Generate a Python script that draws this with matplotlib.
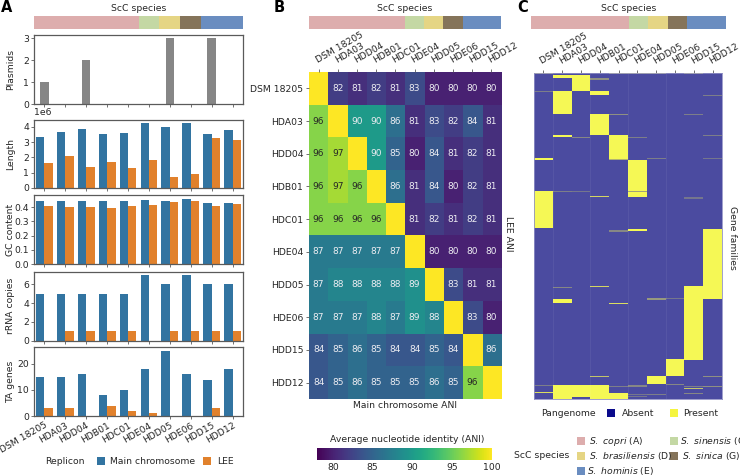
import numpy as np
import matplotlib
matplotlib.use("Agg")
import matplotlib.pyplot as plt
from matplotlib.colors import LinearSegmentedColormap
from matplotlib.patches import Rectangle

strains = ["DSM 18205", "HDA03", "HDD04", "HDB01", "HDC01",
           "HDE04", "HDD05", "HDE06", "HDD15", "HDD12"]

# species strip: number of strains per species, left to right
species_sizes = [5, 1, 1, 1, 2]
species_colors = ["#DDADAD", "#C4D8A4", "#E5D584", "#85745A", "#6A8DC0"]

plasmids = [1, 0, 2, 0, 0, 0, 3, 0, 3, 0]
length_main = [3.3e6, 3.65e6, 3.85e6, 3.55e6, 3.62e6, 4.22e6, 4.0e6, 4.25e6, 3.55e6, 3.8e6]
length_lee = [1.65e6, 2.1e6, 1.35e6, 1.72e6, 1.33e6, 1.8e6, 0.72e6, 0.92e6, 3.28e6, 3.15e6]
gc_main = [.447, .447, .447, .447, .447, .45, .445, .457, .43, .433]
gc_lee = [.408, .405, .402, .395, .41, .418, .435, .443, .41, .423]
rrna_main = [5, 5, 5, 5, 5, 7, 6, 7, 6, 6]
rrna_lee = [0, 1, 1, 1, 1, 0, 1, 1, 1, 1]
ta_main = [15, 15, 16, 8, 10, 18, 25, 16, 14, 18]
ta_lee = [3, 3, 0, 4, 2, 1, 0, 0, 3, 0]

# upper triangle LEE ANI, lower triangle main chromosome ANI, diagonal 100
ani = [
    [100, 82, 81, 82, 81, 83, 80, 80, 80, 80],
    [96, 100, 90, 90, 86, 81, 83, 82, 84, 81],
    [96, 97, 100, 90, 85, 80, 84, 81, 82, 81],
    [96, 97, 96, 100, 86, 81, 84, 80, 82, 81],
    [96, 96, 96, 96, 100, 81, 82, 81, 82, 81],
    [87, 87, 87, 87, 87, 100, 80, 80, 80, 80],
    [87, 88, 88, 88, 88, 89, 100, 83, 81, 81],
    [87, 87, 87, 88, 87, 89, 88, 100, 83, 80],
    [84, 85, 86, 85, 84, 84, 85, 84, 100, 86],
    [84, 85, 86, 85, 85, 85, 86, 85, 96, 100],
]

# pangenome: (strain column, first family, last family, presence)
n_families = 326
pangenome = [
    (0, 0, 1, 1), (4, 0, 1, 1), (5, 0, 1, 1), (6, 0, 1, 1), (8, 0, 1, 1),
    (1, 2, 5, 1), (2, 2, 18, 1), (3, 5, 7, .4), (0, 18, 19, .3),
    (3, 18, 22, 1), (1, 18, 41, 1), (9, 22, 23, .3), (3, 41, 62, 1),
    (4, 41, 42, .4), (8, 41, 42, .3), (1, 62, 64, 1), (9, 62, 63, .3),
    (2, 64, 65, .35), (4, 62, 86, 1), (5, 64, 65, .3), (0, 85, 87, 1),
    (6, 85, 86, .3), (9, 85, 86, .25), (4, 86, 87, .6),
    (5, 87, 124, 1), (0, 118, 155, 1), (1, 118, 119, .3), (2, 118, 119, .25),
    (5, 118, 119, .5), (3, 123, 124, .8), (8, 124, 126, .25),
    (9, 156, 226, 1), (5, 156, 158, 1), (4, 157, 159, .35),
    (8, 213, 287, 1), (1, 214, 215, .35), (3, 213, 214, .8),
    (1, 226, 230, 1), (4, 230, 231, .85), (6, 225, 227, .45), (7, 225, 226, .25),
    (7, 286, 303, 1), (6, 303, 311, 1), (3, 303, 304, .7), (9, 303, 304, .4),
    (1, 312, 326, 1), (2, 312, 324, 1), (3, 312, 326, 1), (4, 320, 326, 1),
    (0, 312, 313, .3), (0, 319, 320, .85), (4, 313, 314, .3), (5, 312, 314, .35),
    (7, 311, 312, .35), (8, 313, 314, .3), (8, 315, 316, .7), (9, 313, 314, .4),
    (8, 320, 321, .35), (5, 321, 322, .25), (5, 323, 324, .25), (6, 321, 322, .3),
]

W, H = 740, 476
GREY = "#5A5A5A"
TEXT = "#262626"
BLUE = "#3274A1"
ORANGE = "#E1812C"

plt.rcParams["font.family"] = "DejaVu Sans"
plt.rcParams["font.size"] = 6.7
plt.rcParams["text.color"] = TEXT
plt.rcParams["axes.labelcolor"] = TEXT
plt.rcParams["xtick.labelcolor"] = TEXT
plt.rcParams["ytick.labelcolor"] = TEXT
plt.rcParams["mathtext.default"] = "regular"

fig = plt.figure(figsize=(W / 100, H / 100), dpi=100)


# axes from pixel box of the picture
def ax_px(left, top, right, bottom):
    return fig.add_axes([left / W, 1 - bottom / H, (right - left) / W, (bottom - top) / H])


def text_px(x, y, s, **kw):
    kw.setdefault("va", "center")
    fig.text(x / W, 1 - y / H, s, **kw)


def patch_px(x, y, color):
    fig.add_artist(Rectangle((x / W, 1 - (y + 4) / H), 8 / W, 8 / H,
                             transform=fig.transFigure, color=color, lw=0))


def species_strip(left, right):
    ax = ax_px(left, 15.5, right, 29)
    ax.barh(0, species_sizes, left=np.cumsum([0] + species_sizes[:-1]),
            height=1, color=species_colors)
    ax.set_xlim(0, sum(species_sizes))
    ax.set_ylim(-.5, .5)
    ax.axis("off")
    text_px((left + right) / 2, 8.5, "ScC species", ha="center", fontsize=6.7)


def style_bar_ax(ax, ylabel, ylim, yticks):
    ax.set_xlim(-.5, 9.5)
    ax.set_ylim(0, ylim)
    ax.set_yticks(yticks)
    ax.set_xticks(range(10))
    ax.set_xticklabels([])
    ax.set_ylabel(ylabel, fontsize=6.7, labelpad=2)
    ax.yaxis.set_label_coords(-.092, .5)
    ax.tick_params(length=2, width=.6, color=GREY, pad=1.5, labelsize=6.7)
    for s in ax.spines.values():
        s.set_edgecolor(GREY)
        s.set_linewidth(.9)


def pair_bars(ax, main, lee):
    x = np.arange(10)
    ax.bar(x - .2, main, .4, color=BLUE)
    ax.bar(x + .2, lee, .4, color=ORANGE)


# panel A
species_strip(34, 243)

ax = ax_px(34, 35, 243, 104)
ax.bar(range(10), plasmids, .4, color="#868686")
style_bar_ax(ax, "Plasmids", 3.15, [0, 1, 2, 3])

ax = ax_px(34, 119.5, 243, 188)
pair_bars(ax, length_main, length_lee)
style_bar_ax(ax, "Length", 4.47e6, [0, 1e6, 2e6, 3e6, 4e6])
ax.yaxis.get_offset_text().set_fontsize(6.7)
ax.yaxis.get_offset_text().set_x(0)

ax = ax_px(34, 195, 243, 264)
pair_bars(ax, gc_main, gc_lee)
style_bar_ax(ax, "GC content", .487, [0, .1, .2, .3, .4])

ax = ax_px(34, 272, 243, 340.6)
pair_bars(ax, rrna_main, rrna_lee)
style_bar_ax(ax, "rRNA copies", 7.3, [0, 2, 4, 6])

ax = ax_px(34, 347, 243, 416)
pair_bars(ax, ta_main, ta_lee)
style_bar_ax(ax, "TA genes", 26.5, [0, 10, 20])
ax.set_xticklabels(strains, rotation=30, ha="right", rotation_mode="anchor")

text_px(45, 461, "Replicon", fontsize=6.7)
patch_px(97, 461, BLUE)
text_px(110, 461, "Main chromosome", fontsize=6.7)
patch_px(203, 461, ORANGE)
text_px(217, 461, "LEE", fontsize=6.7)

# panel B
species_strip(309, 501)

ax = ax_px(309, 72, 501, 399)
mat = np.array(ani)
im = ax.imshow(mat, cmap="viridis", vmin=78, vmax=100, aspect="auto")
for i in range(10):
    for j in range(10):
        if i != j:
            ax.text(j, i, str(ani[i][j]), ha="center", va="center", fontsize=6.5,
                    color=TEXT if mat[i, j] > 92 else "#EDEDF2")
ax.xaxis.tick_top()
ax.set_xticks(range(10))
ax.set_yticks(range(10))
ax.set_xticklabels(strains, rotation=30, ha="left", rotation_mode="anchor")
ax.set_yticklabels(strains)
ax.tick_params(length=2, width=.6, color=GREY, pad=2, labelsize=6.7)
ax.tick_params(axis="x", pad=3)
for s in ax.spines.values():
    s.set_visible(False)
text_px(405, 406, "Main chromosome ANI", ha="center", fontsize=6.7)
text_px(508, 234, "LEE ANI", ha="center", rotation=270, fontsize=6.7)

cax = ax_px(317, 448, 492, 460)
cb = fig.colorbar(im, cax=cax, orientation="horizontal", ticks=[80, 85, 90, 95, 100])
cb.outline.set_visible(False)
cax.tick_params(length=0, pad=2.5, labelsize=6.7)
text_px(407, 440, "Average nucleotide identity (ANI)", ha="center", fontsize=6.7)

# panel C
species_strip(531, 726)

ax = ax_px(534, 73, 722, 399)
grid = np.zeros((n_families, len(strains)))
for col, first, last, value in pangenome:
    grid[first:last, col] = value
pan_cmap = LinearSegmentedColormap.from_list("pan", ["#4B4BA0", "#F5F855"])
ax.imshow(grid, cmap=pan_cmap, vmin=0, vmax=1, aspect="auto", interpolation="nearest")
for col in [1, 3, 5, 7]:
    ax.axvline(col - .5, color="white", alpha=.06, lw=.8)
ax.xaxis.tick_top()
ax.set_xticks(range(10))
ax.set_xticklabels(strains, rotation=30, ha="left", rotation_mode="anchor")
ax.set_yticks([])
ax.tick_params(length=2, width=.6, color=GREY, pad=3, labelsize=6.7)
for s in ax.spines.values():
    s.set_edgecolor("#8F8FC4")
    s.set_linewidth(.6)
text_px(733, 238, "Gene families", ha="center", rotation=270, fontsize=6.7)

text_px(541, 413, "Pangenome", fontsize=6.7)
patch_px(607, 413, "#0A0A8C")
text_px(622, 413.5, "Absent", fontsize=6.7)
patch_px(670, 413, "#F5F53F")
text_px(683, 413.5, "Present", fontsize=6.7)

text_px(514, 456, "ScC species", fontsize=6.7)
patch_px(577, 440.5, species_colors[0])
text_px(589, 441, r"$\mathit{S.\ copri}$ (A)", fontsize=6.7)
patch_px(670, 440.5, species_colors[1])
text_px(680, 441, r"$\mathit{S.\ sinensis}$ (C)", fontsize=6.7)
patch_px(577, 456, species_colors[2])
text_px(589, 456.5, r"$\mathit{S.\ brasiliensis}$ (D)", fontsize=6.7)
patch_px(670, 456, species_colors[3])
text_px(682, 456.5, r"$\mathit{S.\ sinica}$ (G)", fontsize=6.7)
patch_px(577, 471, species_colors[4])
text_px(587, 471, r"$\mathit{S.\ hominis}$ (E)", fontsize=6.7)

for x, letter in [(1, "A"), (274, "B"), (517, "C")]:
    text_px(x, 8, letter, fontsize=10.5, fontweight="bold", color="black")

fig.savefig("out.png", dpi=100)
